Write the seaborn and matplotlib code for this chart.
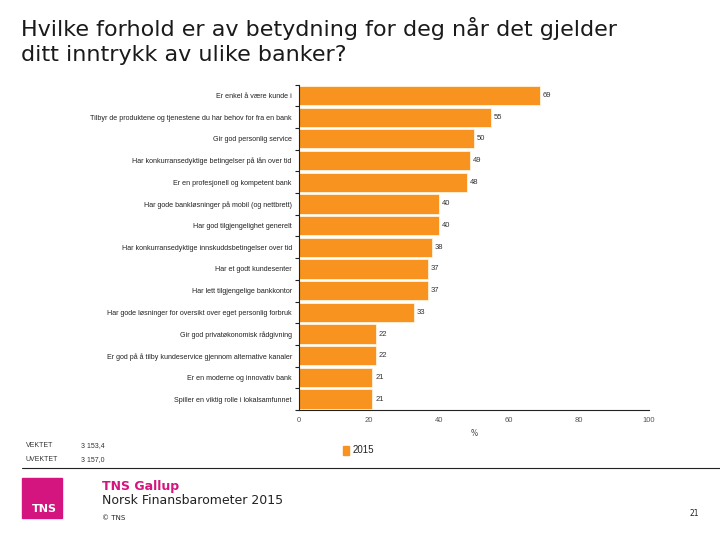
import numpy as np
import pandas as pd
import seaborn as sns
import matplotlib.pyplot as plt
from matplotlib.patches import Rectangle

# data
statements = [
    "Er enkel å være kunde i",
    "Tilbyr de produktene og tjenestene du har behov for fra en bank",
    "Gir god personlig service",
    "Har konkurransedyktige betingelser på lån over tid",
    "Er en profesjonell og kompetent bank",
    "Har gode bankløsninger på mobil (og nettbrett)",
    "Har god tilgjengelighet generelt",
    "Har konkurransedyktige innskuddsbetingelser over tid",
    "Har et godt kundesenter",
    "Har lett tilgjengelige bankkontor",
    "Har gode løsninger for oversikt over eget personlig forbruk",
    "Gir god privatøkonomisk rådgivning",
    "Er god på å tilby kundeservice gjennom alternative kanaler",
    "Er en moderne og innovativ bank",
    "Spiller en viktig rolle i lokalsamfunnet",
]
pct_2015 = [69, 55, 50, 49, 48, 40, 40, 38, 37, 37, 33, 22, 22, 21, 21]
x_ticks = [0, 20, 40, 60, 80, 100]

ORANGE = "#F7931E"
MAGENTA = "#D4157F"


def main():
    sns.set_theme(style="white")
    plt.rcParams["font.family"] = ["DejaVu Sans"]

    df = pd.DataFrame({"statement": statements, "pct": pct_2015})

    fig = plt.figure(figsize=(7.2, 5.4), dpi=100)
    ax = fig.add_axes([0.415, 0.241, 0.486, 0.602])

    sns.barplot(data=df, x="pct", y="statement", orient="h", color=ORANGE,
                saturation=1, width=0.88, edgecolor="#FFF3DD", linewidth=0.6, ax=ax)

    for i, v in enumerate(pct_2015):
        ax.text(v + 0.8, i, str(v), va="center", ha="left", fontsize=5.5,
                color="#333333", family="Liberation Sans")

    ax.set_xlim(0, 100)
    ax.set_ylim(len(statements) - 0.5, -0.5)
    ax.set_xticks(x_ticks)
    ax.set_xticklabels([str(t) for t in x_ticks], fontsize=5.5, color="#555555",
                       family="Liberation Sans")
    ax.set_yticks(range(len(statements)))
    ax.set_yticklabels(statements, fontsize=5.1, color="#222222", family="Liberation Sans")
    ax.set_yticks(np.arange(-0.5, len(statements), 1.0), minor=True)
    ax.tick_params(axis="y", which="major", length=0, pad=5)
    ax.tick_params(axis="y", which="minor", length=3, width=0.8, color="#222222", left=True)
    ax.tick_params(axis="x", length=0, pad=5)
    ax.set_xlabel("%", fontsize=5.5, color="#444444", labelpad=4)
    ax.set_ylabel("")
    sns.despine(ax=ax, top=True, right=True)
    for s in ["left", "bottom"]:
        ax.spines[s].set_color("#222222")
        ax.spines[s].set_linewidth(0.8)

    # title
    fig.text(0.029, 0.968, "Hvilke forhold er av betydning for deg når det gjelder\nditt inntrykk av ulike banker?",
             ha="left", va="top", fontsize=16, color="#1a1a1a", linespacing=1.3)

    # sample sizes
    fig.text(0.036, 0.173, "VEKTET", fontsize=5, color="#333333", family="Liberation Sans")
    fig.text(0.036, 0.146, "UVEKTET", fontsize=5, color="#333333", family="Liberation Sans")
    fig.text(0.113, 0.173, "3 153,4", fontsize=5, color="#333333", family="Liberation Sans")
    fig.text(0.113, 0.146, "3 157,0", fontsize=5, color="#333333", family="Liberation Sans")

    # legend
    fig.patches.append(Rectangle((0.477, 0.157), 0.008, 0.018, transform=fig.transFigure,
                                 color=ORANGE))
    fig.text(0.49, 0.166, "2015", va="center", fontsize=7, color="#222222",
             family="Liberation Sans")

    # footer line and logo
    fig.add_artist(plt.Line2D([0.031, 1.0], [0.133, 0.133], transform=fig.transFigure,
                              color="#222222", linewidth=0.8))
    fig.patches.append(Rectangle((0.031, 0.04), 0.055, 0.074, transform=fig.transFigure,
                                 color=MAGENTA))
    fig.text(0.062, 0.048, "TNS", color="white", fontsize=8, fontweight="bold",
             ha="center", va="bottom")
    fig.text(0.142, 0.092, "TNS Gallup", color=MAGENTA, fontsize=9, fontweight="bold")
    fig.text(0.142, 0.066, "Norsk Finansbarometer 2015", color="#222222", fontsize=9)
    fig.text(0.142, 0.037, "© TNS", color="#222222", fontsize=5)
    fig.text(0.958, 0.045, "21", color="#222222", fontsize=5.5)

    fig.savefig("out.png", dpi=100)


if __name__ == "__main__":
    main()
